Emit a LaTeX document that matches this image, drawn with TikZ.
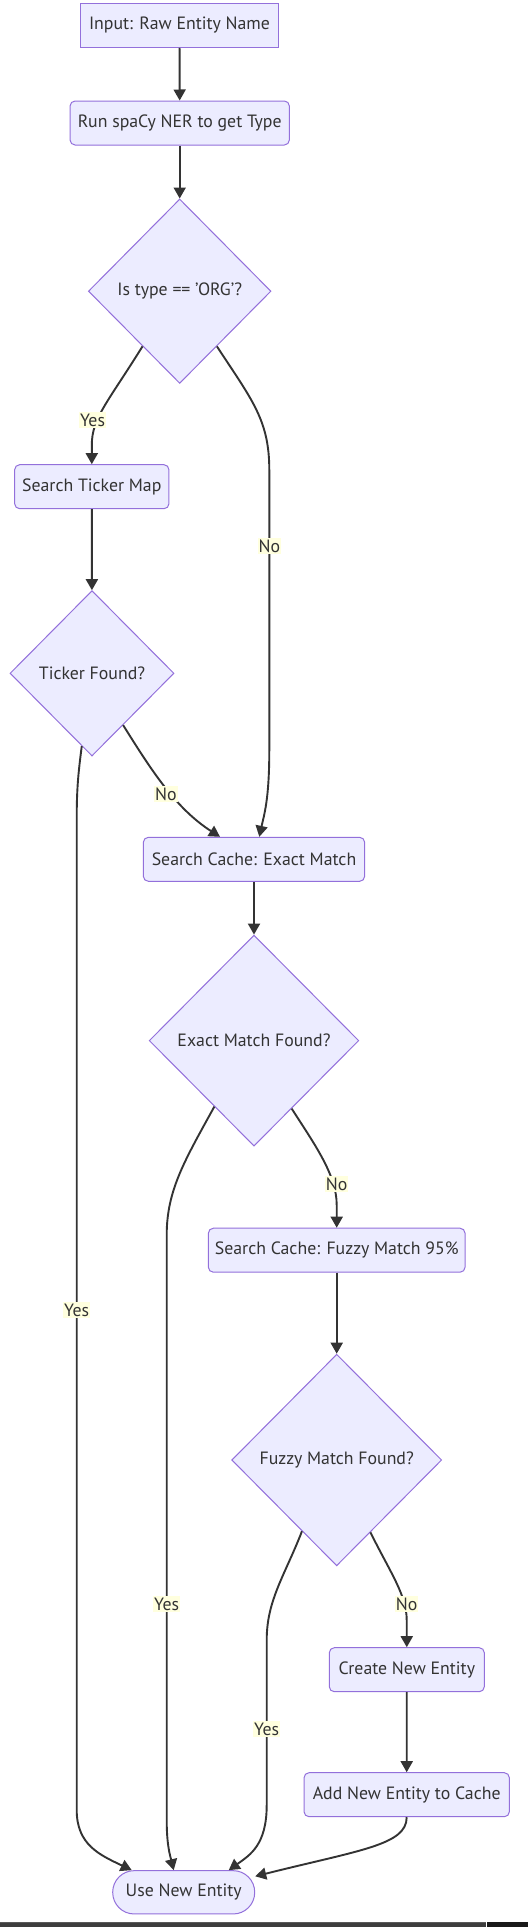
\documentclass[tikz,border=0pt]{standalone}
\usepackage{fontspec}
\setmainfont{PT Sans}
\usetikzlibrary{shapes.geometric,arrows.meta}

\definecolor{boxfill}{HTML}{ECECFF}
\definecolor{boxline}{HTML}{9370DB}
\definecolor{inkgray}{HTML}{333333}
\definecolor{lblfill}{HTML}{FFFFDE}

\tikzset{
  procbox/.style={draw=boxline, fill=boxfill, line width=1pt, rounded corners=5pt,
    minimum height=44pt, inner xsep=4pt, text=inkgray, font=\fontsize{17.8}{20}\selectfont},
  inbox/.style={procbox, rounded corners=0pt},
  termbox/.style={procbox, rounded corners=21.5pt},
  decision/.style={draw=boxline, fill=boxfill, line width=1pt, shape=diamond, aspect=1,
    inner sep=0pt, text=inkgray, font=\fontsize{17.8}{20}\selectfont},
  lbl/.style={fill=lblfill, text=inkgray, inner xsep=1pt, inner ysep=1.5pt,
    font=\fontsize{17.8}{20}\selectfont},
  flow/.style={draw=inkgray, line width=1.9pt, -{Triangle[length=11pt,width=12pt]}}
}

\begin{document}
\begin{tikzpicture}[x=1pt, y=-1pt]
  \useasboundingbox (0,0) rectangle (528,1927);
  \fill[white] (0,0) rectangle (528,1927);

  % process chain
  \node[inbox, minimum width=197.6pt] (input) at (179.5,25.3) {Input: Raw Entity Name};
  \node[procbox, minimum width=219.3pt] (ner) at (179.7,123) {Run spaCy NER to get Type};
  \node[decision, minimum width=182.6pt, minimum height=184.4pt] (isorg) at (179.7,291.2) {Is type == 'ORG'?};
  \node[procbox, minimum width=154.3pt] (ticker) at (91.8,486.7) {Search Ticker Map};
  \node[decision, minimum width=164pt, minimum height=165.4pt] (tfound) at (92,673.3) {Ticker Found?};
  \node[procbox, minimum width=221.3pt] (exact) at (254,859.3) {Search Cache: Exact Match};
  \node[decision, minimum width=209.6pt, minimum height=211pt] (efound) at (254,1040.6) {Exact Match Found?};
  \node[procbox, minimum width=256.7pt] (fuzzy) at (336.7,1250.2) {Search Cache: Fuzzy Match 95\%};
  \node[decision, minimum width=210pt, minimum height=211.6pt] (ffound) at (336.7,1460) {Fuzzy Match Found?};
  \node[procbox, minimum width=155pt] (create) at (406.8,1669.7) {Create New Entity};
  \node[procbox, minimum width=205.3pt] (addc) at (406.7,1794.7) {Add New Entity to Cache};
  \node[termbox, minimum width=142pt, minimum height=43.3pt] (use) at (183.7,1892.3) {Use New Entity};

  % straight links
  \draw[flow] (input) -- (ner);
  \draw[flow] (ner) -- (isorg);
  \draw[flow] (ticker) -- (tfound);
  \draw[flow] (exact) -- (efound);
  \draw[flow] (fuzzy) -- (ffound);
  \draw[flow] (create) -- (addc);

  % branches
  \draw[flow] (isorg.236.7) .. controls (108,402) and (91.8,418) .. (91.8,445) -- (ticker.north);
  \draw[flow] (isorg.304.4) .. controls (252,400) and (269.3,420) .. (269.3,470)
    -- (269.3,750) .. controls (269.3,800) and (264,815) .. ([xshift=5.3pt]exact.north);
  \draw[flow] (tfound.301.2) .. controls (150,768) and (175,808) .. ([xshift=-34pt]exact.north);
  \draw[flow] (tfound.262.8) .. controls (78,775) and (76.7,790) .. (76.7,820)
    -- (76.7,1810) .. controls (76.7,1845) and (100,1855) .. ([xshift=-52pt]use.north);
  \draw[flow] (efound.239.7) .. controls (185,1160) and (166.7,1190) .. (166.7,1235)
    -- (166.7,1820) .. controls (166.7,1845) and (170,1855) .. ([xshift=-10pt]use.north);
  \draw[flow] (efound.299.4) .. controls (315,1145) and (336.7,1175) .. (336.7,1205) -- (fuzzy.north);
  \draw[flow] (ffound.244.8) .. controls (285,1575) and (266.7,1600) .. (266.7,1640)
    -- (266.7,1805) .. controls (266.7,1845) and (250,1855) .. ([xshift=45pt]use.north);
  \draw[flow] (ffound.295.6) .. controls (390,1572) and (406.7,1595) .. (406.7,1620) -- (create.north);
  \draw[flow] (addc.south) .. controls (406.7,1845) and (360,1850) .. ([yshift=16pt]use.east);

  % edge labels
  \node[lbl] (yesorg) at (92.5,420) {Yes};
  \node[lbl] (noorg) at (269.3,546) {No};
  \node[lbl] (notick) at (166,794.3) {No};
  \node[lbl] (yestick) at (76.7,1310.3) {Yes};
  \node[lbl] (noexact) at (336.7,1184) {No};
  \node[lbl] (yesexact) at (166.7,1604) {Yes};
  \node[lbl] (nofuzzy) at (406.7,1604) {No};
  \node[lbl] (yesfuzzy) at (266.7,1729.3) {Yes};

  % window scroll bar
  \fill[fill=black!76] (0,1922) rectangle (486,1927);
  \draw[black!65, line width=0.8pt] (0,1922.4) -- (486,1922.4);
  \fill[fill=black!90] (487,1922) rectangle (528,1927);
\end{tikzpicture}
\end{document}
